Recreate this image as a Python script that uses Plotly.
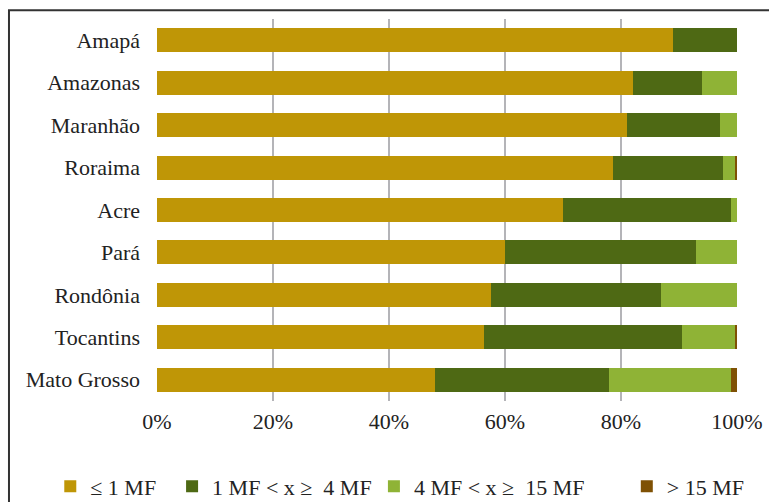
import plotly.graph_objects as go

states = ["Amapá", "Amazonas", "Maranhão", "Roraima", "Acre", "Pará",
          "Rondônia", "Tocantins", "Mato Grosso"]
s_le1 = [89.0, 82.0, 81.0, 78.6, 70.0, 60.0, 57.5, 56.4, 48.0]
s_1to4 = [11.0, 12.0, 16.0, 19.0, 29.0, 33.0, 29.4, 34.2, 29.9]
s_4to15 = [0.0, 6.0, 3.0, 2.1, 1.0, 7.0, 13.1, 9.1, 21.1]
s_gt15 = [0.0, 0.0, 0.0, 0.3, 0.0, 0.0, 0.0, 0.3, 1.0]

names = ["≤ 1 MF", "1 MF < x ≥\u00a0 4 MF", "4 MF < x ≥\u00a0 15 MF", "> 15 MF"]
colors = ["#BF9606", "#4E6914", "#8FB336", "#7F5104"]
series = [s_le1, s_1to4, s_4to15, s_gt15]
legend_ids = ["legend", "legend2", "legend3", "legend4"]
legend_x = [-0.184, 0.026, 0.374, 0.810]

FONT = "Liberation Serif"
fig = go.Figure()
for name, vals, col, lid in zip(names, series, colors, legend_ids):
    fig.add_trace(go.Bar(
        y=states, x=vals, name=name, orientation="h", legend=lid,
        marker=dict(color=col, line=dict(width=0)),
    ))

legend_common = dict(orientation="h", xanchor="left", y=-0.224, yanchor="middle",
                     font=dict(family=FONT, size=22, color="#222222"),
                     itemwidth=30, itemclick=False, bgcolor="rgba(0,0,0,0)")
layout_legends = {lid: dict(x=lx, **legend_common) for lid, lx in zip(legend_ids, legend_x)}

fig.update_layout(
    barmode="stack",
    bargap=0.435,
    width=769, height=502,
    margin=dict(l=157, r=32, t=19, b=101, autoexpand=False),
    plot_bgcolor="white", paper_bgcolor="white",
    font=dict(family=FONT, size=22, color="#222222"),
    showlegend=True,
    xaxis=dict(range=[0, 100], tickvals=[0, 20, 40, 60, 80, 100],
               ticktext=["0%", "20%", "40%", "60%", "80%", "100%"],
               showgrid=True, gridcolor="#B4B4B8", gridwidth=1.5,
               zeroline=False, showline=False, ticks="",
               ticklabelstandoff=5, fixedrange=True),
    yaxis=dict(autorange="reversed", showgrid=False, zeroline=False,
               showline=False, ticks="", ticklabelstandoff=16, fixedrange=True),
    shapes=[dict(type="rect", xref="paper", yref="paper",
                 x0=-0.2552, x1=1.3, y0=-0.6, y1=1.0229,
                 line=dict(color="#333333", width=2), layer="above")],
    **layout_legends,
)

fig.write_html("out.html")
